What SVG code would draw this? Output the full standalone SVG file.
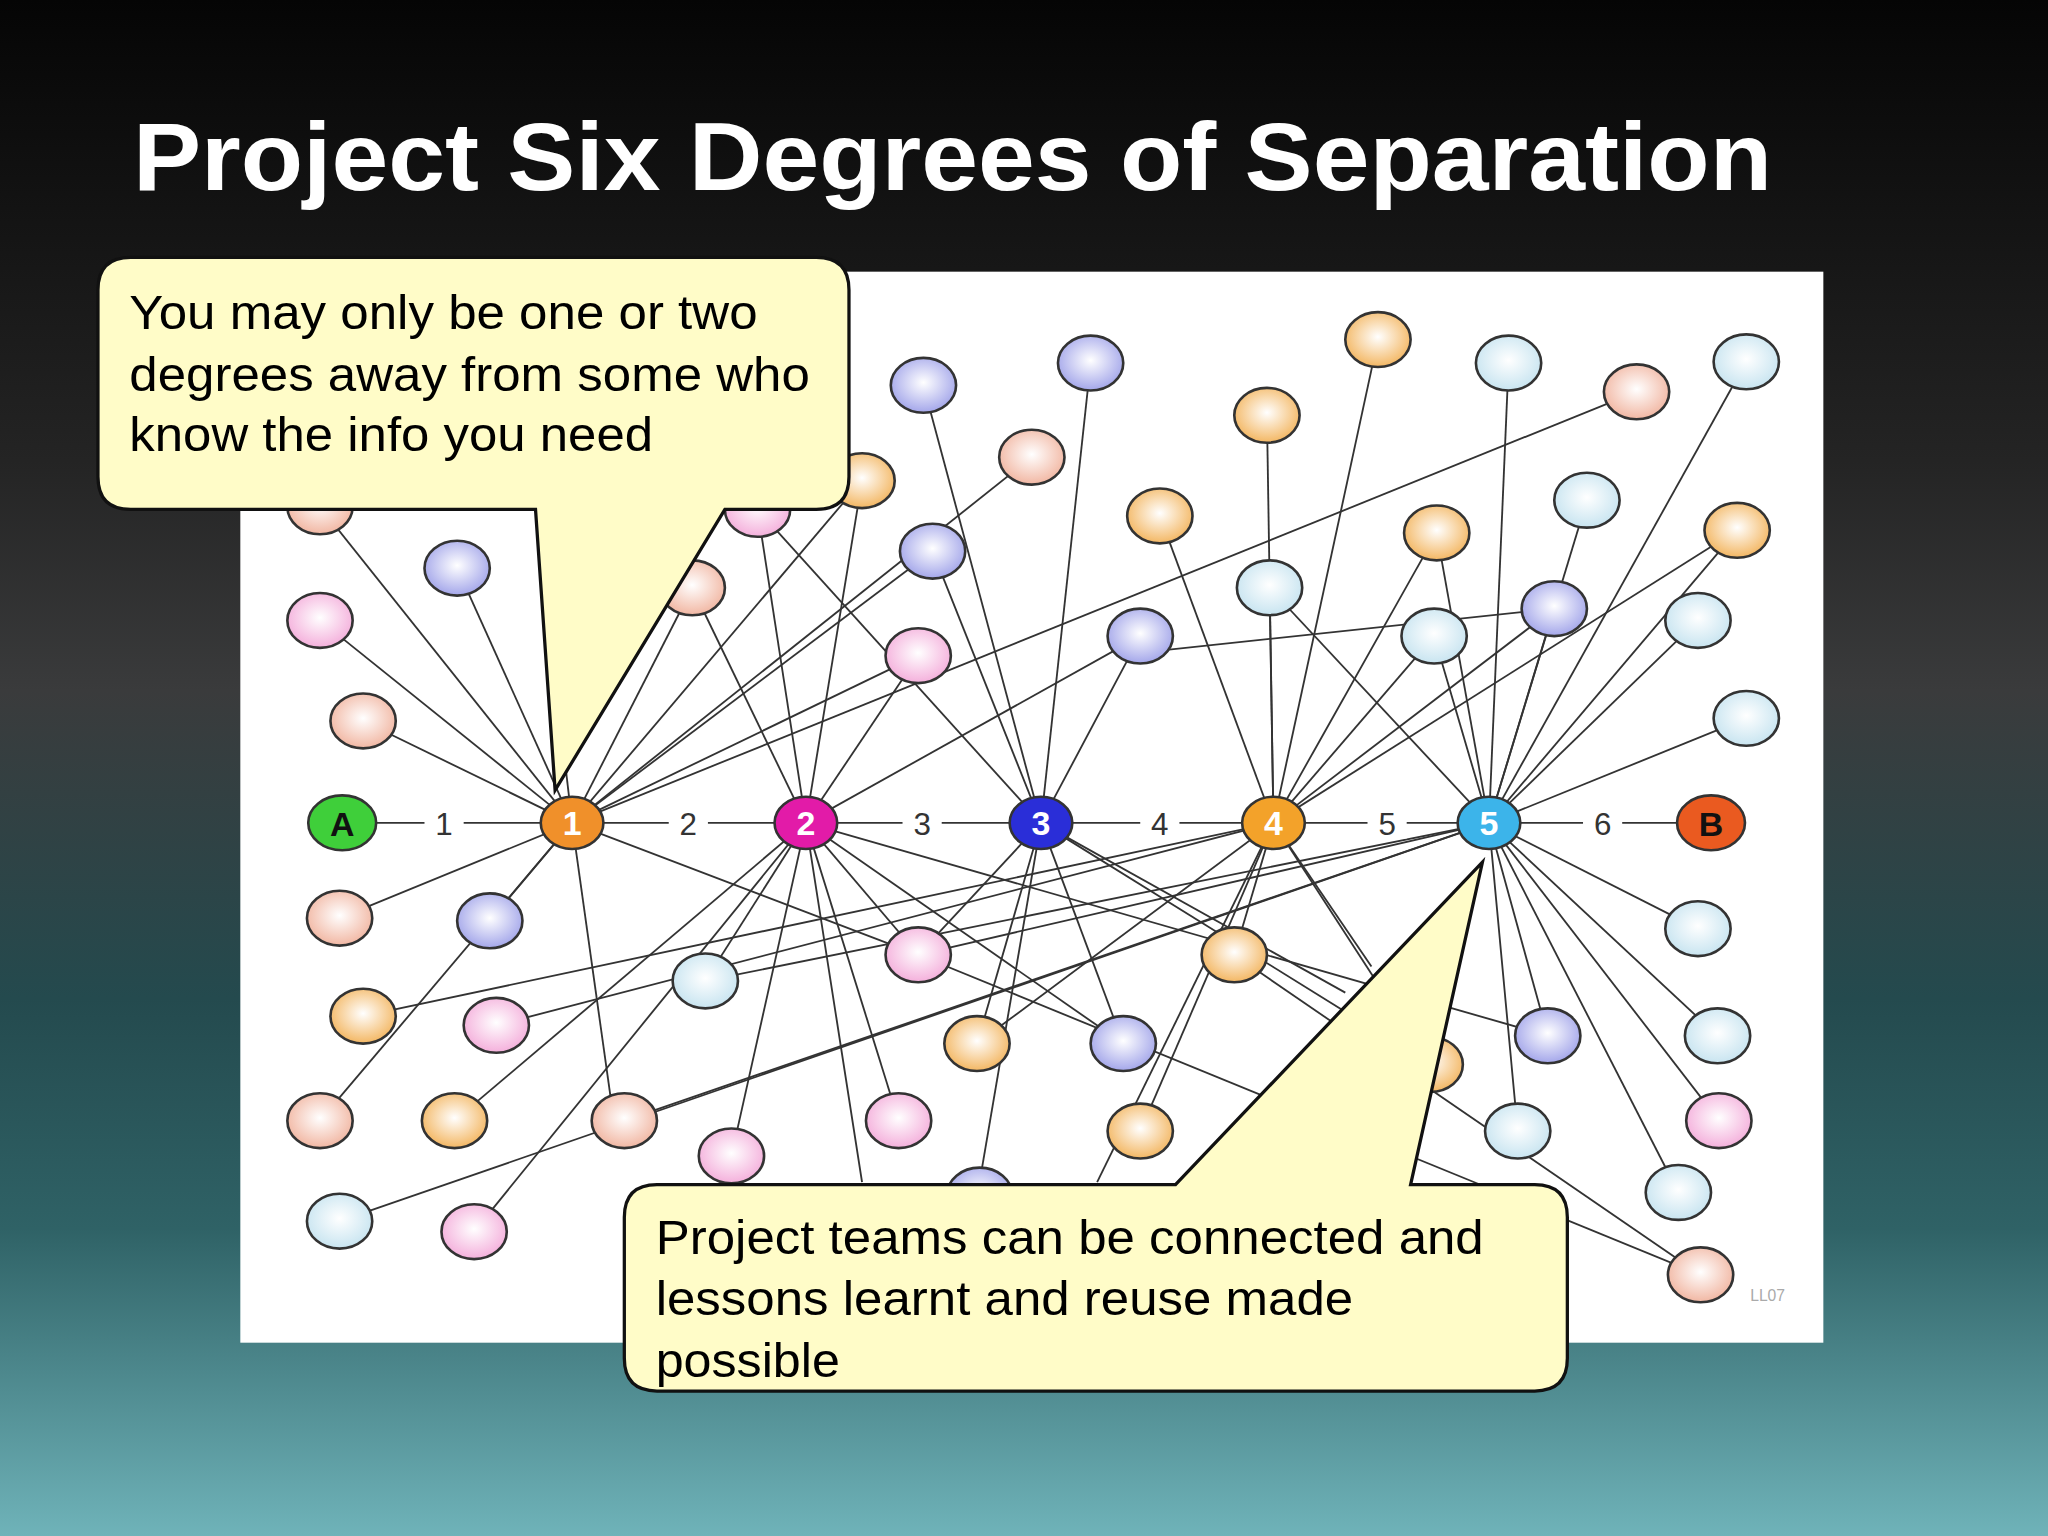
<svg xmlns="http://www.w3.org/2000/svg" width="2048" height="1536" viewBox="0 0 2048 1536">
<defs>
<linearGradient id="bg" x1="0" y1="0" x2="0" y2="1">
<stop offset="0" stop-color="#050505"/><stop offset="0.3" stop-color="#242424"/><stop offset="0.45" stop-color="#3a3b3c"/><stop offset="0.65" stop-color="#244a4e"/><stop offset="0.8" stop-color="#2f6266"/><stop offset="1" stop-color="#6fb3b9"/>
</linearGradient>
<radialGradient id="gP" cx="0.5" cy="0.45" r="0.6"><stop offset="0" stop-color="#fff"/><stop offset="1" stop-color="#f3a8d8"/></radialGradient>
<radialGradient id="gL" cx="0.5" cy="0.45" r="0.6"><stop offset="0" stop-color="#fff"/><stop offset="1" stop-color="#9b9ee8"/></radialGradient>
<radialGradient id="gO" cx="0.5" cy="0.45" r="0.6"><stop offset="0" stop-color="#fff"/><stop offset="1" stop-color="#f2b054"/></radialGradient>
<radialGradient id="gS" cx="0.5" cy="0.45" r="0.6"><stop offset="0" stop-color="#fff"/><stop offset="1" stop-color="#f0b09a"/></radialGradient>
<radialGradient id="gC" cx="0.5" cy="0.45" r="0.6"><stop offset="0" stop-color="#fff"/><stop offset="1" stop-color="#c3e2ef"/></radialGradient>
<style>
.e line{stroke:#333;stroke-width:1.4}
.n{stroke:#333;stroke-width:2}
.P{fill:url(#gP)}.L{fill:url(#gL)}.O{fill:url(#gO)}.S{fill:url(#gS)}.C{fill:url(#gC)}
.h{stroke:#333;stroke-width:2}
.ht{font-family:"Liberation Sans",Arial,sans-serif;font-size:26px;font-weight:bold;fill:#fff;text-anchor:middle}
.lab{font-family:"Liberation Sans",Arial,sans-serif;font-size:24px;fill:#333;text-anchor:middle}
.co{fill:#fffcc8;stroke:#111;stroke-width:2.5}
.ct{font-family:"Liberation Sans",Arial,sans-serif;font-size:37px;fill:#000}
</style>
</defs>
<rect width="2048" height="1536" fill="url(#bg)"/>
<text x="133" y="190" font-family="Liberation Sans,Arial,sans-serif" font-weight="bold" font-size="96" fill="#fff" textLength="1639" lengthAdjust="spacingAndGlyphs">Project Six Degrees of Separation</text>
<g transform="scale(1.30612)">
<rect x="184" y="208" width="1212" height="820" fill="#fff"/>
<g id="connectors" class="e">
<line x1="262" y1="630" x2="1310" y2="630"/>
<line x1="438" y1="630" x2="245" y2="388"/><line x1="438" y1="630" x2="350" y2="435"/><line x1="438" y1="630" x2="245" y2="475"/><line x1="438" y1="630" x2="278" y2="552"/><line x1="438" y1="630" x2="260" y2="703"/><line x1="438" y1="630" x2="375" y2="705"/><line x1="438" y1="630" x2="245" y2="858"/><line x1="438" y1="630" x2="470" y2="858"/><line x1="438" y1="630" x2="530" y2="450"/><line x1="438" y1="630" x2="714" y2="422"/><line x1="438" y1="630" x2="790" y2="350"/><line x1="438" y1="630" x2="1253" y2="300"/><line x1="438" y1="630" x2="703" y2="502"/><line x1="438" y1="630" x2="703" y2="731"/><line x1="438" y1="630" x2="660" y2="368"/><line x1="438" y1="630" x2="410" y2="390"/>
<line x1="617" y1="630" x2="580" y2="390"/><line x1="617" y1="630" x2="660" y2="368"/><line x1="617" y1="630" x2="703" y2="502"/><line x1="617" y1="630" x2="540" y2="751"/><line x1="617" y1="630" x2="560" y2="885"/><line x1="617" y1="630" x2="688" y2="858"/><line x1="617" y1="630" x2="348" y2="858"/><line x1="617" y1="630" x2="363" y2="943"/><line x1="617" y1="630" x2="703" y2="731"/><line x1="617" y1="630" x2="873" y2="487"/><line x1="617" y1="630" x2="530" y2="450"/><line x1="617" y1="630" x2="860" y2="799"/><line x1="617" y1="630" x2="660" y2="905"/><line x1="617" y1="630" x2="1185" y2="793"/>
<line x1="797" y1="630" x2="707" y2="295"/><line x1="797" y1="630" x2="835" y2="278"/><line x1="797" y1="630" x2="714" y2="422"/><line x1="797" y1="630" x2="873" y2="487"/><line x1="797" y1="630" x2="748" y2="799"/><line x1="797" y1="630" x2="860" y2="799"/><line x1="797" y1="630" x2="703" y2="731"/><line x1="797" y1="630" x2="750" y2="905"/><line x1="797" y1="630" x2="1030" y2="760"/><line x1="797" y1="630" x2="1095" y2="815"/><line x1="797" y1="630" x2="580" y2="390"/>
<line x1="975" y1="630" x2="970" y2="318"/><line x1="975" y1="630" x2="1055" y2="260"/><line x1="975" y1="630" x2="888" y2="395"/><line x1="975" y1="630" x2="972" y2="450"/><line x1="975" y1="630" x2="1098" y2="487"/><line x1="975" y1="630" x2="1190" y2="466"/><line x1="975" y1="630" x2="945" y2="731"/><line x1="975" y1="630" x2="873" y2="866"/><line x1="975" y1="630" x2="1095" y2="815"/><line x1="975" y1="630" x2="278" y2="778"/><line x1="975" y1="630" x2="380" y2="785"/><line x1="975" y1="630" x2="1330" y2="406"/><line x1="975" y1="630" x2="1100" y2="408"/><line x1="975" y1="630" x2="840" y2="905"/><line x1="975" y1="630" x2="748" y2="799"/><line x1="975" y1="630" x2="1050" y2="740"/>
<line x1="1140" y1="630" x2="1155" y2="278"/><line x1="1140" y1="630" x2="1337" y2="277"/><line x1="1140" y1="630" x2="1215" y2="383"/><line x1="1140" y1="630" x2="1100" y2="408"/><line x1="1140" y1="630" x2="1330" y2="406"/><line x1="1140" y1="630" x2="1300" y2="475"/><line x1="1140" y1="630" x2="1337" y2="550"/><line x1="1140" y1="630" x2="1190" y2="466"/><line x1="1140" y1="630" x2="1098" y2="487"/><line x1="1140" y1="630" x2="972" y2="450"/><line x1="1140" y1="630" x2="1300" y2="711"/><line x1="1140" y1="630" x2="1315" y2="793"/><line x1="1140" y1="630" x2="1316" y2="858"/><line x1="1140" y1="630" x2="1285" y2="913"/><line x1="1140" y1="630" x2="1162" y2="866"/><line x1="1140" y1="630" x2="1185" y2="793"/><line x1="1140" y1="630" x2="540" y2="751"/><line x1="1140" y1="630" x2="260" y2="935"/><line x1="1140" y1="630" x2="478" y2="858"/><line x1="1140" y1="630" x2="703" y2="731"/>
<line x1="703" y1="731" x2="1302" y2="976"/><line x1="945" y1="731" x2="1302" y2="976"/><line x1="870" y1="500" x2="1190" y2="466"/>
</g>
<g id="nodes">
<g id="n-top"><ellipse class="n L" cx="707" cy="295" rx="25" ry="21"/><ellipse class="n L" cx="835" cy="278" rx="25" ry="21"/><ellipse class="n O" cx="1055" cy="260" rx="25" ry="21"/><ellipse class="n C" cx="1155" cy="278" rx="25" ry="21"/><ellipse class="n S" cx="1253" cy="300" rx="25" ry="21"/><ellipse class="n C" cx="1337" cy="277" rx="25" ry="21"/><ellipse class="n O" cx="970" cy="318" rx="25" ry="21"/><ellipse class="n S" cx="790" cy="350" rx="25" ry="21"/><ellipse class="n O" cx="660" cy="368" rx="25" ry="21"/><ellipse class="n C" cx="1215" cy="383" rx="25" ry="21"/><ellipse class="n O" cx="888" cy="395" rx="25" ry="21"/><ellipse class="n O" cx="1100" cy="408" rx="25" ry="21"/><ellipse class="n O" cx="1330" cy="406" rx="25" ry="21"/><ellipse class="n L" cx="714" cy="422" rx="25" ry="21"/><ellipse class="n P" cx="580" cy="390" rx="25" ry="21"/><ellipse class="n S" cx="530" cy="450" rx="25" ry="21"/><ellipse class="n L" cx="350" cy="435" rx="25" ry="21"/><ellipse class="n S" cx="245" cy="388" rx="25" ry="21"/><ellipse class="n P" cx="245" cy="475" rx="25" ry="21"/><ellipse class="n C" cx="972" cy="450" rx="25" ry="21"/><ellipse class="n L" cx="1190" cy="466" rx="25" ry="21"/><ellipse class="n C" cx="1098" cy="487" rx="25" ry="21"/><ellipse class="n C" cx="1300" cy="475" rx="25" ry="21"/><ellipse class="n L" cx="873" cy="487" rx="25" ry="21"/><ellipse class="n P" cx="703" cy="502" rx="25" ry="21"/><ellipse class="n S" cx="278" cy="552" rx="25" ry="21"/><ellipse class="n C" cx="1337" cy="550" rx="25" ry="21"/></g>
<g id="n-bottom"><ellipse class="n S" cx="260" cy="703" rx="25" ry="21"/><ellipse class="n L" cx="375" cy="705" rx="25" ry="21"/><ellipse class="n P" cx="703" cy="731" rx="25" ry="21"/><ellipse class="n C" cx="540" cy="751" rx="25" ry="21"/><ellipse class="n O" cx="945" cy="731" rx="25" ry="21"/><ellipse class="n C" cx="1300" cy="711" rx="25" ry="21"/><ellipse class="n O" cx="278" cy="778" rx="25" ry="21"/><ellipse class="n P" cx="380" cy="785" rx="25" ry="21"/><ellipse class="n O" cx="748" cy="799" rx="25" ry="21"/><ellipse class="n L" cx="860" cy="799" rx="25" ry="21"/><ellipse class="n L" cx="1185" cy="793" rx="25" ry="21"/><ellipse class="n C" cx="1315" cy="793" rx="25" ry="21"/><ellipse class="n O" cx="1095" cy="815" rx="25" ry="21"/><ellipse class="n S" cx="245" cy="858" rx="25" ry="21"/><ellipse class="n O" cx="348" cy="858" rx="25" ry="21"/><ellipse class="n S" cx="478" cy="858" rx="25" ry="21"/><ellipse class="n P" cx="688" cy="858" rx="25" ry="21"/><ellipse class="n O" cx="873" cy="866" rx="25" ry="21"/><ellipse class="n C" cx="1162" cy="866" rx="25" ry="21"/><ellipse class="n P" cx="1316" cy="858" rx="25" ry="21"/><ellipse class="n P" cx="560" cy="885" rx="25" ry="21"/><ellipse class="n C" cx="1285" cy="913" rx="25" ry="21"/><ellipse class="n C" cx="260" cy="935" rx="25" ry="21"/><ellipse class="n P" cx="363" cy="943" rx="25" ry="21"/><ellipse class="n L" cx="750" cy="915" rx="25" ry="21"/><ellipse class="n S" cx="1302" cy="976" rx="25" ry="21"/></g>
<g id="labels"><rect x="325" y="618" width="30" height="24" fill="#fff"/><text class="lab" x="340" y="639">1</text><rect x="512" y="618" width="30" height="24" fill="#fff"/><text class="lab" x="527" y="639">2</text><rect x="691" y="618" width="30" height="24" fill="#fff"/><text class="lab" x="706" y="639">3</text><rect x="873" y="618" width="30" height="24" fill="#fff"/><text class="lab" x="888" y="639">4</text><rect x="1047" y="618" width="30" height="24" fill="#fff"/><text class="lab" x="1062" y="639">5</text><rect x="1212" y="618" width="30" height="24" fill="#fff"/><text class="lab" x="1227" y="639">6</text></g>
<g id="A"><ellipse class="h" cx="262" cy="630" rx="26" ry="21" fill="#3fcf3a"/><text class="ht" x="262" y="640" style="fill:#111">A</text></g>
<g id="h1"><ellipse class="h" cx="438" cy="630" rx="24" ry="20" fill="#f0902a"/><text class="ht" x="438" y="639">1</text></g>
<g id="h2"><ellipse class="h" cx="617" cy="630" rx="24" ry="20" fill="#e21ba8"/><text class="ht" x="617" y="639">2</text></g>
<g id="h3"><ellipse class="h" cx="797" cy="630" rx="24" ry="20" fill="#2a2ed8"/><text class="ht" x="797" y="639">3</text></g>
<g id="h4"><ellipse class="h" cx="975" cy="630" rx="24" ry="20" fill="#f3a22a"/><text class="ht" x="975" y="639">4</text></g>
<g id="h5"><ellipse class="h" cx="1140" cy="630" rx="24" ry="20" fill="#3cb4ea"/><text class="ht" x="1140" y="639">5</text></g>
<g id="B"><ellipse class="h" cx="1310" cy="630" rx="26" ry="21" fill="#ea5a20"/><text class="ht" x="1310" y="640" style="fill:#111">B</text></g>
</g>
<text x="1340" y="996" font-family="Liberation Sans,Arial,sans-serif" font-size="12" fill="#aaa">LL07</text>
</g>
<g id="callout1" transform="scale(1.30612)">
<path class="co" d="M100,197 H625 Q650,197 650,222 V365 Q650,390 625,390 H555 L425,605 L410,390 H100 Q75,390 75,365 V222 Q75,197 100,197 Z"/>
<text class="ct" x="99" y="252" textLength="481" lengthAdjust="spacingAndGlyphs">You may only be one or two</text>
<text class="ct" x="99" y="299" textLength="521" lengthAdjust="spacingAndGlyphs">degrees away from some who</text>
<text class="ct" x="99" y="345" textLength="401" lengthAdjust="spacingAndGlyphs">know the info you need</text>
</g>
<g id="callout2" transform="scale(1.30612)">
<path class="co" d="M503,907 H900 L1135,660 L1080,907 H1175 Q1200,907 1200,932 V1040 Q1200,1065 1175,1065 H503 Q478,1065 478,1040 V932 Q478,907 503,907 Z"/>
<text class="ct" x="502" y="960" textLength="634" lengthAdjust="spacingAndGlyphs">Project teams can be connected and</text>
<text class="ct" x="502" y="1007" textLength="534" lengthAdjust="spacingAndGlyphs">lessons learnt and reuse made</text>
<text class="ct" x="502" y="1054" textLength="141" lengthAdjust="spacingAndGlyphs">possible</text>
</g>
</svg>
